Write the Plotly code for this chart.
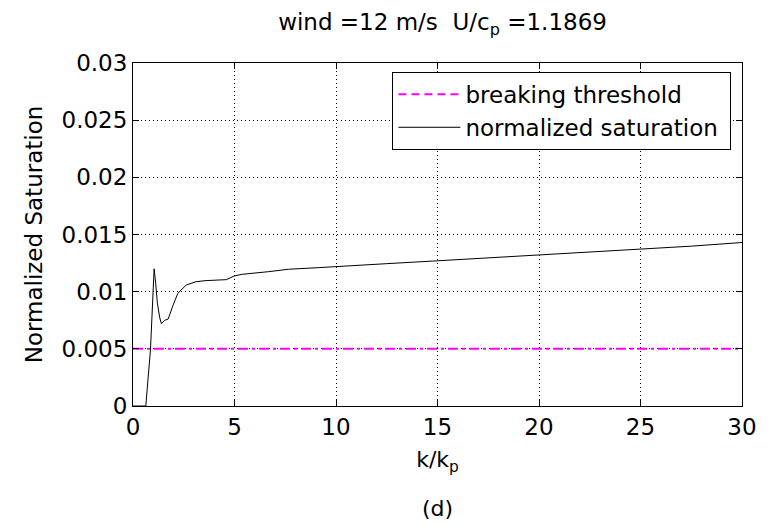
import plotly.graph_objects as go

# data
k_ratio = [0.0, 0.3, 0.63, 0.86, 0.94, 0.99, 1.04, 1.12, 1.2, 1.32, 1.4, 1.56, 1.73, 1.97,
           2.21, 2.62, 3.1, 3.6, 4.24, 4.6, 4.98, 5.38, 6.68, 7.66, 9.12, 10, 12.5, 15,
           17.5, 20, 22.5, 25, 27.5, 30]
saturation = [0.0, 0.0, 0.0, 0.0049, 0.0087, 0.0109, 0.0120, 0.0107, 0.0090, 0.0077, 0.0072,
              0.0075, 0.0076, 0.0088, 0.00986, 0.01058, 0.01087, 0.01097, 0.01102, 0.01105,
              0.01137, 0.01152, 0.01175, 0.01196, 0.0121, 0.0122, 0.01245, 0.0127, 0.01295,
              0.0132, 0.01345, 0.0137, 0.01398, 0.0143]
threshold_x = [0, 30]
threshold_y = [0.005, 0.005]

x_ticks = [0, 5, 10, 15, 20, 25, 30]
y_ticks = [0, 0.005, 0.01, 0.015, 0.02, 0.025, 0.03]
y_ticktext = ["0", "0.005", "0.01", "0.015", "0.02", "0.025", "0.03"]

FONT = "DejaVu Sans"
FS = 23

fig = go.Figure()
# threshold line drawn dash-dot on the axes, dashed sample in legend
fig.add_trace(go.Scatter(x=threshold_x, y=threshold_y, mode="lines",
                         name="breaking threshold", legendgroup="thr", showlegend=False,
                         line=dict(color="#FF00FF", width=2, dash="10px,4px,3px,4px")))
fig.add_trace(go.Scatter(x=[None], y=[None], mode="lines",
                         name="breaking threshold", legendgroup="thr",
                         line=dict(color="#FF00FF", width=2, dash="8px,5px")))
fig.add_trace(go.Scatter(x=k_ratio, y=saturation, mode="lines",
                         name="normalized saturation\u00a0",
                         line=dict(color="black", width=1)))

axis_common = dict(showline=True, linecolor="black", linewidth=1, mirror="ticks",
                   ticks="inside", ticklen=6, tickcolor="black",
                   showgrid=True, gridcolor="black", griddash="1px,3px", gridwidth=1,
                   zeroline=False, tickfont=dict(family=FONT, size=FS, color="black"))

fig.update_layout(
    width=769, height=526,
    margin=dict(l=133, r=21, t=63, b=120),
    paper_bgcolor="white", plot_bgcolor="white",
    title=dict(text="wind =12 m/s\u00a0\u00a0U/c<sub>p</sub> =1.1869", x=0.5755, xanchor="center",
               y=0.958, yanchor="middle",
               font=dict(family=FONT, size=FS, color="black")),
    xaxis=dict(range=[0, 30], tickvals=x_ticks,
               title=dict(text="k/k<sub>p</sub>", font=dict(family=FONT, size=22, color="black"),
                          standoff=13),
               **axis_common),
    yaxis=dict(range=[0, 0.03], tickvals=y_ticks, ticktext=y_ticktext,
               title=dict(text="Normalized Saturation", font=dict(family=FONT, size=FS, color="black"),
                          standoff=12),
               **axis_common),
    legend=dict(x=0.426, y=0.974, xanchor="left", yanchor="top",
                bordercolor="black", borderwidth=1, bgcolor="white",
                font=dict(family=FONT, size=FS, color="black"),
                tracegroupgap=0, itemwidth=62),
    showlegend=True,
    annotations=[dict(text="(d)", xref="paper", yref="paper", x=0.5, y=-0.298,
                      xanchor="center", yanchor="middle", showarrow=False,
                      font=dict(family=FONT, size=22, color="black"))],
)

fig.write_html("out.html")
